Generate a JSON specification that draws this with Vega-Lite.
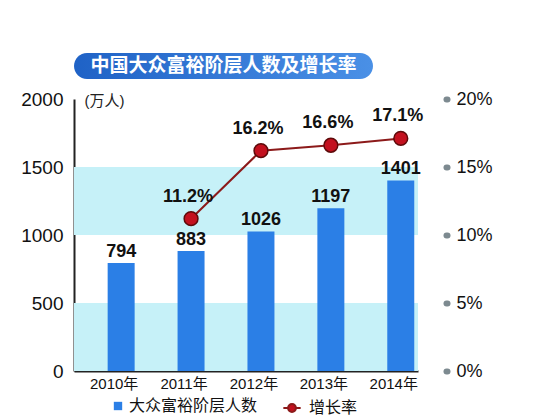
{
  "$schema": "https://vega.github.io/schema/vega-lite/v6.json",
  "background": "white",
  "padding": {"left": 20, "top": 53, "right": 5, "bottom": 2},
  "config": {
    "view": {"stroke": null},
    "font": "Liberation Sans, Noto Sans CJK SC"
  },
  "bounds": "flush",
  "spacing": 20,
  "vconcat": [
    {
      "width": 299,
      "height": 26,
      "data": {"values": [{"title": "中国大众富裕阶层人数及增长率"}]},
      "layer": [
        {
          "mark": {
            "type": "rect",
            "cornerRadius": 13,
            "color": {
              "gradient": "linear", "x1": 0, "x2": 1, "y1": 0, "y2": 0,
              "stops": [{"offset": 0, "color": "#1f62c6"}, {"offset": 1, "color": "#4a90e6"}]
            }
          },
          "encoding": {}
        },
        {
          "mark": {"type": "text", "color": "white", "fontSize": 19, "fontWeight": "bold", "font": "Noto Sans CJK SC"},
          "encoding": {"text": {"field": "title"}}
        }
      ]
    },
    {
      "width": 344,
      "height": 272,
      "data": {
        "values": [
          {"year": "2010年", "people": 794, "rate": null},
          {"year": "2011年", "people": 883, "rate": 0.112},
          {"year": "2012年", "people": 1026, "rate": 0.162},
          {"year": "2013年", "people": 1197, "rate": 0.166},
          {"year": "2014年", "people": 1401, "rate": 0.171}
        ]
      },
      "layer": [
        {
          "layer": [
            {
              "data": {"values": [{"lo": 0, "hi": 500}, {"lo": 1000, "hi": 1500}]},
              "mark": {"type": "rect", "color": "#c6f1f8"},
              "encoding": {
                "y": {
                  "field": "lo", "type": "quantitative",
                  "scale": {"domain": [0, 2000], "nice": false},
                  "axis": {
                    "title": "(万人)", "values": [0, 500, 1000, 1500, 2000], "format": "d",
                    "ticks": false, "grid": false, "domainColor": "#222", "domainWidth": 2,
                    "labelPadding": 11, "labelFontSize": 19, "labelColor": "#111",
                    "titleAngle": 0, "titleAlign": "left", "titleBaseline": "middle",
                    "titleX": 10, "titleY": 1, "titleFontSize": 15, "titleFontWeight": "normal", "titleColor": "#222"
                  }
                },
                "y2": {"field": "hi"}
              }
            },
            {
              "mark": {"type": "bar"},
              "encoding": {
                "x": {
                  "field": "year", "type": "nominal", "sort": null,
                  "scale": {"paddingInner": 0.614, "paddingOuter": 0.2675, "align": 0.9},
                  "axis": {
                    "title": null, "labelAngle": 0, "ticks": false, "labelPadding": 5,
                    "labelFontSize": 15, "labelColor": "#111", "domainColor": "#222", "domainWidth": 2,
                    "labelOffset": -7
                  }
                },
                "y": {"field": "people", "type": "quantitative"},
                "fill": {
                  "datum": "大众富裕阶层人数",
                  "scale": {"domain": ["大众富裕阶层人数"], "range": ["#2b7fe6"]},
                  "legend": {
                    "title": null, "orient": "none", "direction": "horizontal",
                    "legendX": 36, "legendY": 345,
                    "labelFontSize": 16, "labelFont": "Noto Sans CJK SC", "labelColor": "#111",
                    "symbolType": "square", "symbolSize": 70, "labelOffset": 3
                  }
                }
              }
            },
            {
              "mark": {"type": "text", "fontSize": 18, "fontWeight": "bold", "color": "#111", "baseline": "alphabetic", "dy": -6},
              "encoding": {
                "x": {"field": "year", "type": "nominal", "sort": null, "scale": {"paddingInner": 0.614, "paddingOuter": 0.2675, "align": 0.9}},
                "y": {"field": "people", "type": "quantitative"},
                "text": {"field": "people", "type": "quantitative"}
              }
            }
          ]
        },
        {
          "transform": [{"filter": "isValid(datum.rate)"}],
          "layer": [
            {
              "mark": {"type": "line", "strokeWidth": 2},
              "encoding": {
                "x": {"field": "year", "type": "nominal", "sort": null, "scale": {"paddingInner": 0.614, "paddingOuter": 0.2675, "align": 0.9}},
                "y": {
                  "field": "rate", "type": "quantitative",
                  "scale": {"domain": [0, 0.2], "nice": false},
                  "axis": {
                    "orient": "right", "title": null, "values": [0, 0.05, 0.1, 0.15, 0.2], "format": ".0%",
                    "domain": false, "ticks": true, "tickSize": 1, "tickWidth": 6, "tickCap": "round",
                    "tickColor": "#7d8a90", "offset": 28, "labelPadding": 9, "labelFontSize": 18,
                    "labelColor": "#111", "grid": false
                  }
                },
                "stroke": {
                  "datum": "增长率",
                  "scale": {"domain": ["增长率"], "range": ["#8c1a1a"]},
                  "legend": {
                    "title": null, "orient": "none", "direction": "horizontal",
                    "legendX": 208, "legendY": 345,
                    "labelFontSize": 16, "labelFont": "Noto Sans CJK SC", "labelColor": "#111",
                    "symbolType": "M-1,0L-0.45,0M0.45,0L1,0M0.45,0A0.45,0.45,0,1,1,-0.45,0A0.45,0.45,0,1,1,0.45,0Z",
                    "symbolFillColor": "#c3111f", "symbolStrokeWidth": 2, "symbolSize": 300, "labelOffset": 7
                  }
                }
              }
            },
            {
              "mark": {"type": "point", "filled": true, "size": 190, "color": "#c3111f", "stroke": "#5e0a0a", "strokeWidth": 1.5, "opacity": 1},
              "encoding": {
                "x": {"field": "year", "type": "nominal", "sort": null, "scale": {"paddingInner": 0.614, "paddingOuter": 0.2675, "align": 0.9}},
                "y": {"field": "rate", "type": "quantitative"}
              }
            },
            {
              "mark": {"type": "text", "fontSize": 18, "fontWeight": "bold", "color": "#111", "baseline": "alphabetic", "dy": -17, "dx": -3},
              "encoding": {
                "x": {"field": "year", "type": "nominal", "sort": null, "scale": {"paddingInner": 0.614, "paddingOuter": 0.2675, "align": 0.9}},
                "y": {"field": "rate", "type": "quantitative"},
                "text": {"field": "rate", "type": "quantitative", "format": ".1%"}
              }
            }
          ]
        }
      ],
      "resolve": {"scale": {"y": "independent"}}
    }
  ]
}
